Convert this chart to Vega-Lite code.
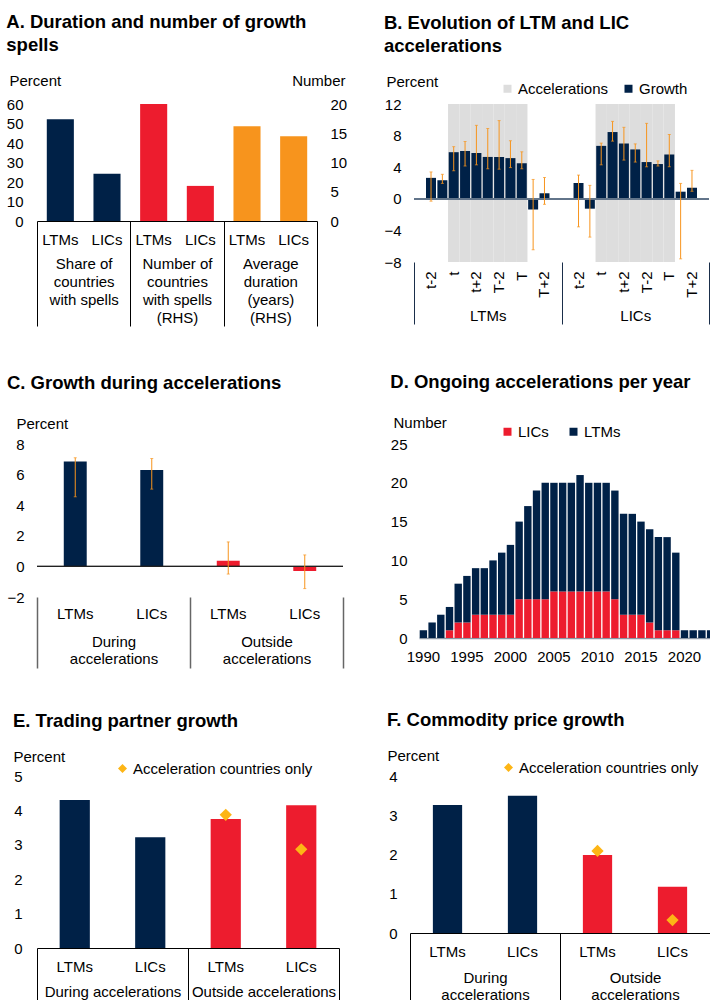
{
  "$schema": "https://vega.github.io/schema/vega-lite/v6.json",
  "padding": {"left": 6, "top": 12, "right": 0, "bottom": 0},
  "background": "white",
  "spacing": 45,
  "resolve": {"scale": {"color": "independent"}, "legend": {"color": "independent"}},
  "config": {
    "font": "Liberation Sans",
    "view": {"stroke": null},
    "title": {"anchor": "start", "fontSize": 18.5, "fontWeight": "bold", "font": "Liberation Sans", "color": "#000", "lineHeight": 23},
    "axis": {"ticks": false, "domain": false, "grid": false, "labelFontSize": 15, "titleFontSize": 15, "titleFontWeight": "normal", "labelColor": "#000", "titleColor": "#000", "labelFont": "Liberation Sans", "titleFont": "Liberation Sans", "labelOverlap": false},
    "axisQuantitative": {"labelOverlap": false},
    "axisY": {"titleAngle": 0, "titleBaseline": "bottom", "titleAlign": "left", "labelPadding": 13, "labelOverlap": false},
    "legend": {"labelFontSize": 15, "labelFont": "Liberation Sans", "labelColor": "#000", "symbolStrokeWidth": 0, "labelLimit": 400, "labelOffset": 3}
  },
  "vconcat": [
    {
      "spacing": 36,
      "resolve": {"scale": {"color": "independent"}, "legend": {"color": "independent"}},
      "hconcat": [
        {
          "title": {"text": ["A. Duration and number of growth", "spells"], "offset": 19},
          "width": 280,
          "height": 117,
          "data": {"values": [
            {"grp": "Share of\ncountries\nwith spells", "k": "S:LTMs", "m": "Share", "v": 52.2},
            {"grp": "Share of\ncountries\nwith spells", "k": "S:LICs", "m": "Share", "v": 24.2},
            {"grp": "Number of\ncountries\nwith spells\n(RHS)", "k": "N:LTMs", "m": "Number", "v": 20},
            {"grp": "Number of\ncountries\nwith spells\n(RHS)", "k": "N:LICs", "m": "Number", "v": 6},
            {"grp": "Average\nduration\n(years)\n(RHS)", "k": "D:LTMs", "m": "Duration", "v": 16.2},
            {"grp": "Average\nduration\n(years)\n(RHS)", "k": "D:LICs", "m": "Duration", "v": 14.5}
          ]},
          "layer": [
            {
              "transform": [{"filter": "datum.m == 'Share'"}],
              "mark": {"type": "bar", "color": "#002147"},
              "encoding": {
                "x": {"field": "k", "type": "nominal", "scale": {"domain": ["S:LTMs","S:LICs","N:LTMs","N:LICs","D:LTMs","D:LICs"], "paddingInner": 0.42, "paddingOuter": 0.21},
                      "axis": {"orient": "bottom", "title": null, "labelExpr": "split(datum.value, ':')[1]", "labelAngle": 0, "domain": true, "domainColor": "#000", "domainWidth": 1, "labelPadding": 11, "labelBaseline": "top"}},
                "y": {"field": "v", "type": "quantitative", "scale": {"domain": [0, 60], "nice": false},
                      "axis": {"orient": "left", "values": [0,10,20,30,40,50,60], "title": "Percent", "titleX": -28, "titleY": -16, "labelPadding": 14, "labelOverlap": false}}
              }
            },
            {
              "transform": [{"filter": "datum.m != 'Share'"}],
              "mark": {"type": "bar"},
              "encoding": {
                "x": {"field": "k", "type": "nominal", "scale": {"domain": ["S:LTMs","S:LICs","N:LTMs","N:LICs","D:LTMs","D:LICs"], "paddingInner": 0.42, "paddingOuter": 0.21}, "axis": null},
                "y": {"field": "v", "type": "quantitative", "scale": {"domain": [0, 20], "nice": false},
                      "axis": {"orient": "right", "values": [0,5,10,15,20], "title": "Number", "titleX": 28, "titleY": -16, "titleAlign": "right", "labelPadding": 13, "labelAlign": "left", "labelOverlap": false}},
                "color": {"condition": {"test": "datum.m == 'Number'", "value": "#ED1C2E"}, "value": "#F7941D"}
              }
            },
            {
              "mark": {"type": "point", "opacity": 0},
              "encoding": {
                "x": {"field": "grp", "type": "nominal", "scale": {"domain": ["Share of\ncountries\nwith spells","Number of\ncountries\nwith spells\n(RHS)","Average\nduration\n(years)\n(RHS)"], "paddingInner": 0, "paddingOuter": 0},
                      "axis": {"orient": "bottom", "title": null, "ticks": true, "tickBand": "extent", "tickSize": 105, "tickColor": "#000", "tickWidth": 1, "domain": false, "labelAngle": 0, "labelPadding": -70, "labelBaseline": "top", "labelLineHeight": 18, "labelExpr": "isString(datum.value) ? split(datum.value, '\\n') : ''"}}
              }
            }
          ],
          "resolve": {"scale": {"x": "independent", "y": "independent"}}
        },
        {
          "title": {"text": ["B. Evolution of LTM and LIC", "accelerations"], "offset": 19},
          "width": 295,
          "height": 158,
          "data": {"values": [
            {"grp": "LTMs", "k": "LTMs:t-2", "g": 2.65, "lo": -0.3, "hi": 3.4, "acc": 0},
            {"grp": "LTMs", "k": "LTMs:t-1", "g": 2.35, "lo": 1.95, "hi": 3.1, "acc": 0},
            {"grp": "LTMs", "k": "LTMs:t", "g": 5.9, "lo": 3.55, "hi": 6.6, "acc": 1},
            {"grp": "LTMs", "k": "LTMs:t+1", "g": 6.05, "lo": 4.15, "hi": 7.25, "acc": 1},
            {"grp": "LTMs", "k": "LTMs:t+2", "g": 5.8, "lo": 4.3, "hi": 9.3, "acc": 1},
            {"grp": "LTMs", "k": "LTMs:mid", "g": 5.3, "lo": 3.8, "hi": 8.9, "acc": 1},
            {"grp": "LTMs", "k": "LTMs:T-2", "g": 5.3, "lo": 3.75, "hi": 9.9, "acc": 1},
            {"grp": "LTMs", "k": "LTMs:T-1", "g": 5.15, "lo": 3.95, "hi": 7.35, "acc": 1},
            {"grp": "LTMs", "k": "LTMs:T", "g": 4.5, "lo": 3.8, "hi": 5.95, "acc": 1},
            {"grp": "LTMs", "k": "LTMs:T+1", "g": -1.35, "lo": -6.45, "hi": 2.45, "acc": 0},
            {"grp": "LTMs", "k": "LTMs:T+2", "g": 0.7, "lo": -0.7, "hi": 2.7, "acc": 0},
            {"grp": "LICs", "k": "LICs:t-2", "g": 2.0, "lo": -3.55, "hi": 3.0, "acc": 0},
            {"grp": "LICs", "k": "LICs:t-1", "g": -1.25, "lo": -4.85, "hi": 1.7, "acc": 0},
            {"grp": "LICs", "k": "LICs:t", "g": 6.7, "lo": 4.3, "hi": 7.05, "acc": 1},
            {"grp": "LICs", "k": "LICs:t+1", "g": 8.45, "lo": 7.3, "hi": 9.8, "acc": 1},
            {"grp": "LICs", "k": "LICs:t+2", "g": 7.0, "lo": 4.9, "hi": 9.05, "acc": 1},
            {"grp": "LICs", "k": "LICs:mid", "g": 6.25, "lo": 4.65, "hi": 6.95, "acc": 1},
            {"grp": "LICs", "k": "LICs:T-2", "g": 4.65, "lo": 4.05, "hi": 9.55, "acc": 1},
            {"grp": "LICs", "k": "LICs:T-1", "g": 4.4, "lo": 4.15, "hi": 4.8, "acc": 1},
            {"grp": "LICs", "k": "LICs:T", "g": 5.6, "lo": 4.05, "hi": 8.15, "acc": 1},
            {"grp": "LICs", "k": "LICs:T+1", "g": 0.9, "lo": -7.6, "hi": 1.95, "acc": 0},
            {"grp": "LICs", "k": "LICs:T+2", "g": 1.4, "lo": 0.95, "hi": 3.6, "acc": 0}
          ]},
          "layer": [
            {
              "transform": [{"filter": "datum.acc == 1"}],
              "mark": {"type": "bar", "width": {"band": 1}},
              "encoding": {
                "x": {"field": "k", "type": "nominal", "scale": {"domain": ["LTMs:t-2","LTMs:t-1","LTMs:t","LTMs:t+1","LTMs:t+2","LTMs:mid","LTMs:T-2","LTMs:T-1","LTMs:T","LTMs:T+1","LTMs:T+2","gap1","gap2","LICs:t-2","LICs:t-1","LICs:t","LICs:t+1","LICs:t+2","LICs:mid","LICs:T-2","LICs:T-1","LICs:T","LICs:T+1","LICs:T+2"], "paddingInner": 0, "paddingOuter": 1}, "axis": null},
                "y": {"datum": 12, "type": "quantitative", "scale": {"domain": [-8, 12], "nice": false},
                      "axis": {"values": [-8,-4,0,4,8,12], "title": "Percent", "titleX": -28, "titleY": -15, "labelOverlap": false}},
                "y2": {"datum": -8},
                "color": {"datum": "Accelerations", "type": "nominal", "scale": {"domain": ["Accelerations", "Growth"], "range": ["#DDDDDD", "#002147"]},
                          "legend": {"orient": "none", "legendX": 86, "legendY": -23, "direction": "horizontal", "title": null, "symbolType": "square", "symbolSize": 64, "columnPadding": 12}}
              }
            },
            {
              "mark": {"type": "bar", "width": {"band": 0.88}},
              "encoding": {
                "x": {"field": "k", "type": "nominal", "scale": {"domain": ["LTMs:t-2","LTMs:t-1","LTMs:t","LTMs:t+1","LTMs:t+2","LTMs:mid","LTMs:T-2","LTMs:T-1","LTMs:T","LTMs:T+1","LTMs:T+2","gap1","gap2","LICs:t-2","LICs:t-1","LICs:t","LICs:t+1","LICs:t+2","LICs:mid","LICs:T-2","LICs:T-1","LICs:T","LICs:T+1","LICs:T+2"], "paddingInner": 0, "paddingOuter": 1},
                      "axis": {"orient": "bottom", "title": null, "labelAngle": -90, "labelPadding": 9, "labelExpr": "indexof(['t-2','t','t+2','T-2','T','T+2'], split(datum.value, ':')[1]) >= 0 ? split(datum.value, ':')[1] : ''"}},
                "y": {"field": "g", "type": "quantitative", "axis": {"values": [-8,-4,0,4,8,12], "title": "Percent", "titleX": -28, "titleY": -15, "labelOverlap": false}},
                "color": {"datum": "Growth", "type": "nominal"}
              }
            },
            {
              "mark": {"type": "rule", "color": "#62758a", "strokeWidth": 1.5},
              "encoding": {"y": {"datum": 0, "type": "quantitative", "axis": {"values": [-8,-4,0,4,8,12], "title": "Percent", "titleX": -28, "titleY": -15, "labelOverlap": false}}}
            },
            {
              "mark": {"type": "rule", "color": "#F7941D", "strokeWidth": 1},
              "encoding": {
                "x": {"field": "k", "type": "nominal", "scale": {"domain": ["LTMs:t-2","LTMs:t-1","LTMs:t","LTMs:t+1","LTMs:t+2","LTMs:mid","LTMs:T-2","LTMs:T-1","LTMs:T","LTMs:T+1","LTMs:T+2","gap1","gap2","LICs:t-2","LICs:t-1","LICs:t","LICs:t+1","LICs:t+2","LICs:mid","LICs:T-2","LICs:T-1","LICs:T","LICs:T+1","LICs:T+2"], "paddingInner": 0, "paddingOuter": 1}, "axis": null},
                "y": {"field": "lo", "type": "quantitative", "axis": {"values": [-8,-4,0,4,8,12], "title": "Percent", "titleX": -28, "titleY": -15, "labelOverlap": false}},
                "y2": {"field": "hi"}
              }
            },
            {
              "mark": {"type": "tick", "color": "#F7941D", "size": 3, "thickness": 1},
              "encoding": {
                "x": {"field": "k", "type": "nominal", "scale": {"domain": ["LTMs:t-2","LTMs:t-1","LTMs:t","LTMs:t+1","LTMs:t+2","LTMs:mid","LTMs:T-2","LTMs:T-1","LTMs:T","LTMs:T+1","LTMs:T+2","gap1","gap2","LICs:t-2","LICs:t-1","LICs:t","LICs:t+1","LICs:t+2","LICs:mid","LICs:T-2","LICs:T-1","LICs:T","LICs:T+1","LICs:T+2"], "paddingInner": 0, "paddingOuter": 1}, "axis": null},
                "y": {"field": "lo", "type": "quantitative", "axis": {"values": [-8,-4,0,4,8,12], "title": "Percent", "titleX": -28, "titleY": -15, "labelOverlap": false}}
              }
            },
            {
              "mark": {"type": "tick", "color": "#F7941D", "size": 3, "thickness": 1},
              "encoding": {
                "x": {"field": "k", "type": "nominal", "scale": {"domain": ["LTMs:t-2","LTMs:t-1","LTMs:t","LTMs:t+1","LTMs:t+2","LTMs:mid","LTMs:T-2","LTMs:T-1","LTMs:T","LTMs:T+1","LTMs:T+2","gap1","gap2","LICs:t-2","LICs:t-1","LICs:t","LICs:t+1","LICs:t+2","LICs:mid","LICs:T-2","LICs:T-1","LICs:T","LICs:T+1","LICs:T+2"], "paddingInner": 0, "paddingOuter": 1}, "axis": null},
                "y": {"field": "hi", "type": "quantitative", "axis": {"values": [-8,-4,0,4,8,12], "title": "Percent", "titleX": -28, "titleY": -15, "labelOverlap": false}}
              }
            },
            {
              "mark": {"type": "point", "opacity": 0},
              "encoding": {
                "x": {"field": "grp", "type": "nominal", "scale": {"domain": ["LTMs", "LICs"], "paddingInner": 0, "paddingOuter": 0},
                      "axis": {"orient": "bottom", "title": null, "ticks": true, "tickBand": "extent", "tickSize": 62, "tickColor": "#1a2e4a", "tickWidth": 1, "domain": false, "labelAngle": 0, "labelPadding": -16, "labelBaseline": "top", "labelExpr": "isString(datum.value) ? datum.value : ''"}}
              }
            }
          ],
          "resolve": {"scale": {"x": "independent"}}
        }
      ]
    },
    {
      "spacing": 41,
      "resolve": {"scale": {"color": "independent"}, "legend": {"color": "independent"}},
      "vconcat": [
        {
          "spacing": 46,
          "resolve": {"scale": {"color": "independent"}, "legend": {"color": "independent"}},
          "hconcat": [
            {
              "title": {"text": "C. Growth during accelerations", "offset": 24},
              "width": 306,
              "height": 153,
              "data": {"values": [
                {"grp": "During\naccelerations", "k": "D:LTMs", "v": 6.85, "lo": 4.55, "hi": 7.1},
                {"grp": "During\naccelerations", "k": "D:LICs", "v": 6.3, "lo": 5.05, "hi": 7.05},
                {"grp": "Outside\naccelerations", "k": "O:LTMs", "v": 0.37, "lo": -0.5, "hi": 1.6},
                {"grp": "Outside\naccelerations", "k": "O:LICs", "v": -0.3, "lo": -1.45, "hi": 0.75}
              ]},
              "layer": [
                {
                  "mark": {"type": "bar"},
                  "encoding": {
                    "x": {"field": "k", "type": "nominal", "scale": {"domain": ["D:LTMs","D:LICs","O:LTMs","O:LICs"], "paddingInner": 0.7, "paddingOuter": 0.35},
                          "axis": {"orient": "bottom", "title": null, "labelExpr": "split(datum.value, ':')[1]", "labelAngle": 0, "labelPadding": 9, "labelBaseline": "top"}},
                    "y": {"field": "v", "type": "quantitative", "scale": {"domain": [-2, 8], "nice": false},
                          "axis": {"values": [-2,0,2,4,6,8], "title": "Percent", "titleX": -21, "titleY": -13, "labelOverlap": false}},
                    "color": {"condition": {"test": "indexof(datum.k, 'D:') == 0", "value": "#002147"}, "value": "#ED1C2E"}
                  }
                },
                {
                  "mark": {"type": "rule", "color": "#222", "strokeWidth": 1},
                  "encoding": {"y": {"datum": 0, "type": "quantitative", "axis": {"values": [-2,0,2,4,6,8], "title": "Percent", "titleX": -21, "titleY": -13, "labelOverlap": false}}}
                },
                {
                  "mark": {"type": "rule", "color": "#F7941D", "strokeWidth": 1},
                  "encoding": {
                    "x": {"field": "k", "type": "nominal", "scale": {"domain": ["D:LTMs","D:LICs","O:LTMs","O:LICs"], "paddingInner": 0.7, "paddingOuter": 0.35}, "axis": null},
                    "y": {"field": "lo", "type": "quantitative", "axis": {"values": [-2,0,2,4,6,8], "title": "Percent", "titleX": -21, "titleY": -13, "labelOverlap": false}},
                    "y2": {"field": "hi"}
                  }
                },
                {
                  "mark": {"type": "tick", "color": "#F7941D", "size": 3, "thickness": 1},
                  "encoding": {
                    "x": {"field": "k", "type": "nominal", "scale": {"domain": ["D:LTMs","D:LICs","O:LTMs","O:LICs"], "paddingInner": 0.7, "paddingOuter": 0.35}, "axis": null},
                    "y": {"field": "lo", "type": "quantitative", "axis": {"values": [-2,0,2,4,6,8], "title": "Percent", "titleX": -21, "titleY": -13, "labelOverlap": false}}
                  }
                },
                {
                  "mark": {"type": "tick", "color": "#F7941D", "size": 3, "thickness": 1},
                  "encoding": {
                    "x": {"field": "k", "type": "nominal", "scale": {"domain": ["D:LTMs","D:LICs","O:LTMs","O:LICs"], "paddingInner": 0.7, "paddingOuter": 0.35}, "axis": null},
                    "y": {"field": "hi", "type": "quantitative", "axis": {"values": [-2,0,2,4,6,8], "title": "Percent", "titleX": -21, "titleY": -13, "labelOverlap": false}}
                  }
                },
                {
                  "mark": {"type": "point", "opacity": 0},
                  "encoding": {
                    "x": {"field": "grp", "type": "nominal", "scale": {"domain": ["During\naccelerations", "Outside\naccelerations"], "paddingInner": 0, "paddingOuter": 0},
                          "axis": {"orient": "bottom", "title": null, "ticks": true, "tickBand": "extent", "tickSize": 71, "tickColor": "#666", "tickWidth": 1.5, "domain": false, "labelAngle": 0, "labelPadding": -34, "labelBaseline": "top", "labelLineHeight": 17, "labelExpr": "isString(datum.value) ? split(datum.value, '\\n') : ''"}}
                  }
                }
              ],
              "resolve": {"scale": {"x": "independent"}}
            },
            {
              "title": {"text": "D. Ongoing accelerations per year", "offset": 24},
              "width": 296,
              "height": 194,
              "data": {"values": [
                {"year": 1990, "LICs": 0, "LTMs": 1},
                {"year": 1991, "LICs": 0, "LTMs": 2},
                {"year": 1992, "LICs": 0, "LTMs": 3},
                {"year": 1993, "LICs": 1, "LTMs": 3},
                {"year": 1994, "LICs": 2, "LTMs": 5},
                {"year": 1995, "LICs": 2, "LTMs": 6},
                {"year": 1996, "LICs": 3, "LTMs": 6},
                {"year": 1997, "LICs": 3, "LTMs": 6},
                {"year": 1998, "LICs": 3, "LTMs": 7},
                {"year": 1999, "LICs": 3, "LTMs": 8},
                {"year": 2000, "LICs": 3, "LTMs": 9},
                {"year": 2001, "LICs": 5, "LTMs": 10},
                {"year": 2002, "LICs": 5, "LTMs": 12},
                {"year": 2003, "LICs": 5, "LTMs": 14},
                {"year": 2004, "LICs": 5, "LTMs": 15},
                {"year": 2005, "LICs": 6, "LTMs": 14},
                {"year": 2006, "LICs": 6, "LTMs": 14},
                {"year": 2007, "LICs": 6, "LTMs": 14},
                {"year": 2008, "LICs": 6, "LTMs": 15},
                {"year": 2009, "LICs": 6, "LTMs": 14},
                {"year": 2010, "LICs": 6, "LTMs": 14},
                {"year": 2011, "LICs": 6, "LTMs": 14},
                {"year": 2012, "LICs": 5, "LTMs": 14},
                {"year": 2013, "LICs": 3, "LTMs": 13},
                {"year": 2014, "LICs": 3, "LTMs": 13},
                {"year": 2015, "LICs": 3, "LTMs": 12},
                {"year": 2016, "LICs": 2, "LTMs": 12},
                {"year": 2017, "LICs": 1, "LTMs": 12},
                {"year": 2018, "LICs": 1, "LTMs": 12},
                {"year": 2019, "LICs": 1, "LTMs": 10},
                {"year": 2020, "LICs": 0, "LTMs": 1},
                {"year": 2021, "LICs": 0, "LTMs": 1},
                {"year": 2022, "LICs": 0, "LTMs": 1},
                {"year": 2023, "LICs": 0, "LTMs": 1}
              ]},
              "transform": [{"fold": ["LICs", "LTMs"], "as": ["type", "n"]}],
              "mark": {"type": "bar"},
              "encoding": {
                "x": {"field": "year", "type": "ordinal", "scale": {"paddingInner": 0.15, "paddingOuter": 0.08},
                      "axis": {"title": null, "labelAngle": 0, "labelExpr": "datum.value % 5 == 0 ? datum.label : ''", "domain": true, "domainColor": "#8a96a3", "domainWidth": 1.5, "labelPadding": 11, "labelBaseline": "top"}},
                "y": {"field": "n", "type": "quantitative", "stack": "zero", "scale": {"domain": [0, 25], "nice": false},
                      "axis": {"values": [0,5,10,15,20,25], "title": "Number", "titleX": -26, "titleY": -14, "labelPadding": 12, "labelOverlap": false}},
                "color": {"field": "type", "type": "nominal", "scale": {"domain": ["LICs", "LTMs"], "range": ["#ED1C2E", "#002147"]},
                          "legend": {"orient": "none", "legendX": 81, "legendY": -20, "direction": "horizontal", "title": null, "symbolType": "square", "symbolSize": 64, "columnPadding": 17}},
                "order": {"field": "type", "sort": "ascending"}
              }
            }
          ]
        },
        {
          "spacing": 47,
          "resolve": {"scale": {"color": "independent"}, "legend": {"color": "independent"}},
          "hconcat": [
            {
              "title": {"text": "E. Trading partner growth", "offset": 19},
              "width": 302,
              "height": 172,
              "data": {"values": [
                {"grp": "During accelerations", "k": "D:LTMs", "v": 4.3, "acc": null},
                {"grp": "During accelerations", "k": "D:LICs", "v": 3.22, "acc": null},
                {"grp": "Outside accelerations", "k": "O:LTMs", "v": 3.75, "acc": 3.87},
                {"grp": "Outside accelerations", "k": "O:LICs", "v": 4.15, "acc": 2.87}
              ]},
              "layer": [
                {
                  "mark": {"type": "bar"},
                  "encoding": {
                    "x": {"field": "k", "type": "nominal", "scale": {"domain": ["D:LTMs","D:LICs","O:LTMs","O:LICs"], "paddingInner": 0.6, "paddingOuter": 0.3},
                          "axis": {"orient": "bottom", "title": null, "labelExpr": "split(datum.value, ':')[1]", "labelAngle": 0, "domain": true, "domainColor": "#000", "domainWidth": 1, "labelPadding": 11, "labelBaseline": "top"}},
                    "y": {"field": "v", "type": "quantitative", "scale": {"domain": [0, 5], "nice": false},
                          "axis": {"values": [0,1,2,3,4,5], "title": "Percent", "titleX": -24, "titleY": -12, "labelPadding": 15, "labelOverlap": false}},
                    "color": {"condition": {"test": "indexof(datum.k, 'D:') == 0", "value": "#002147"}, "value": "#ED1C2E"}
                  }
                },
                {
                  "transform": [{"filter": "isValid(datum.acc)"}],
                  "mark": {"type": "point", "shape": "diamond", "filled": true, "size": 150, "opacity": 1},
                  "encoding": {
                    "x": {"field": "k", "type": "nominal", "scale": {"domain": ["D:LTMs","D:LICs","O:LTMs","O:LICs"], "paddingInner": 0.6, "paddingOuter": 0.3}, "axis": null},
                    "y": {"field": "acc", "type": "quantitative", "axis": {"values": [0,1,2,3,4,5], "title": "Percent", "titleX": -24, "titleY": -12, "labelPadding": 15, "labelOverlap": false}},
                    "color": {"datum": "Acceleration countries only", "type": "nominal", "scale": {"domain": ["Acceleration countries only"], "range": ["#FDB515"]},
                              "legend": {"orient": "none", "legendX": 78, "legendY": -15, "title": null, "symbolType": "diamond", "symbolSize": 81}}
                  }
                },
                {
                  "mark": {"type": "point", "opacity": 0},
                  "encoding": {
                    "x": {"field": "grp", "type": "nominal", "scale": {"domain": ["During accelerations", "Outside accelerations"], "paddingInner": 0, "paddingOuter": 0},
                          "axis": {"orient": "bottom", "title": null, "ticks": true, "tickBand": "extent", "tickSize": 60, "tickColor": "#000", "tickWidth": 1, "domain": false, "labelAngle": 0, "labelPadding": -24, "labelBaseline": "top", "labelExpr": "isString(datum.value) ? datum.value : ''"}}
                  }
                }
              ],
              "resolve": {"scale": {"x": "independent"}}
            },
            {
              "title": {"text": "F. Commodity price growth", "offset": 19},
              "width": 300,
              "height": 157,
              "data": {"values": [
                {"grp": "During\naccelerations", "k": "D:LTMs", "v": 3.26, "acc": null},
                {"grp": "During\naccelerations", "k": "D:LICs", "v": 3.5, "acc": null},
                {"grp": "Outside\naccelerations", "k": "O:LTMs", "v": 1.99, "acc": 2.09},
                {"grp": "Outside\naccelerations", "k": "O:LICs", "v": 1.18, "acc": 0.33}
              ]},
              "layer": [
                {
                  "mark": {"type": "bar"},
                  "encoding": {
                    "x": {"field": "k", "type": "nominal", "scale": {"domain": ["D:LTMs","D:LICs","O:LTMs","O:LICs"], "paddingInner": 0.61, "paddingOuter": 0.305},
                          "axis": {"orient": "bottom", "title": null, "labelExpr": "split(datum.value, ':')[1]", "labelAngle": 0, "domain": true, "domainColor": "#000", "domainWidth": 1, "labelPadding": 11, "labelBaseline": "top"}},
                    "y": {"field": "v", "type": "quantitative", "scale": {"domain": [0, 4], "nice": false},
                          "axis": {"values": [0,1,2,3,4], "title": "Percent", "titleX": -23, "titleY": -13, "labelOverlap": false}},
                    "color": {"condition": {"test": "indexof(datum.k, 'D:') == 0", "value": "#002147"}, "value": "#ED1C2E"}
                  }
                },
                {
                  "transform": [{"filter": "isValid(datum.acc)"}],
                  "mark": {"type": "point", "shape": "diamond", "filled": true, "size": 150, "opacity": 1},
                  "encoding": {
                    "x": {"field": "k", "type": "nominal", "scale": {"domain": ["D:LTMs","D:LICs","O:LTMs","O:LICs"], "paddingInner": 0.61, "paddingOuter": 0.305}, "axis": null},
                    "y": {"field": "acc", "type": "quantitative", "axis": {"values": [0,1,2,3,4], "title": "Percent", "titleX": -23, "titleY": -13, "labelOverlap": false}},
                    "color": {"datum": "Acceleration countries only", "type": "nominal", "scale": {"domain": ["Acceleration countries only"], "range": ["#FDB515"]},
                              "legend": {"orient": "none", "legendX": 91, "legendY": -16, "title": null, "symbolType": "diamond", "symbolSize": 81}}
                  }
                },
                {
                  "mark": {"type": "point", "opacity": 0},
                  "encoding": {
                    "x": {"field": "grp", "type": "nominal", "scale": {"domain": ["During\naccelerations", "Outside\naccelerations"], "paddingInner": 0, "paddingOuter": 0},
                          "axis": {"orient": "bottom", "title": null, "ticks": true, "tickBand": "extent", "tickSize": 70, "tickColor": "#000", "tickWidth": 1, "domain": false, "labelAngle": 0, "labelPadding": -33, "labelBaseline": "top", "labelLineHeight": 17, "labelExpr": "isString(datum.value) ? split(datum.value, '\\n') : ''"}}
                  }
                }
              ],
              "resolve": {"scale": {"x": "independent"}}
            }
          ]
        }
      ]
    }
  ]
}
